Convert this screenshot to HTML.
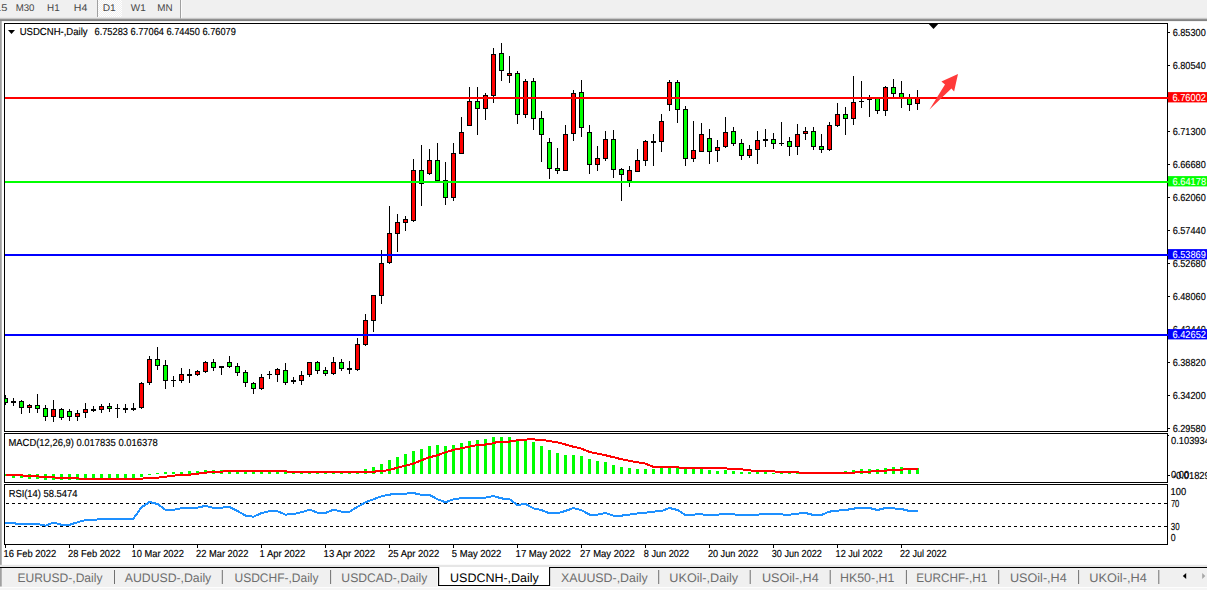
<!DOCTYPE html>
<html><head><meta charset="utf-8"><title>USDCNH Daily</title>
<style>html,body{margin:0;padding:0;background:#fff;overflow:hidden}svg{display:block}text{font-family:"Liberation Sans",sans-serif;text-rendering:geometricPrecision}</style></head><body>
<svg width="1207" height="590" viewBox="0 0 1207 590">
<defs><linearGradient id="tb" x1="0" y1="0" x2="0" y2="1"><stop offset="0" stop-color="#ececec"/><stop offset="0.45" stop-color="#8a8a8a"/><stop offset="0.75" stop-color="#8a8a8a"/><stop offset="1" stop-color="#f4f4f4"/></linearGradient>
<pattern id="hatch" width="2" height="2" patternUnits="userSpaceOnUse"><rect width="2" height="2" fill="#f0f0f0"/><rect width="1" height="1" fill="#fff"/><rect x="1" y="1" width="1" height="1" fill="#fff"/></pattern>
<clipPath id="cm"><rect x="5" y="24" width="1162" height="407"/></clipPath><clipPath id="cr"><rect x="1168" y="0" width="39" height="590"/></clipPath></defs>
<rect width="1207" height="590" fill="#fff"/>
<g id="toolbar"><rect x="0" y="0" width="1207" height="18" fill="#f0f0f0"/>
<rect x="0" y="17" width="1207" height="1" fill="#e9e9e9"/><rect x="0" y="18" width="1207" height="1" fill="#c8c8c8"/><rect x="0" y="19" width="1207" height="1" fill="#909090"/><rect x="0" y="20" width="1207" height="1" fill="#828282"/><rect x="0" y="21" width="1207" height="0.3" fill="#d8d8d8"/>
<rect x="98" y="0" width="24" height="17" fill="url(#hatch)"/>
<rect x="97" y="0" width="1" height="17" fill="#a0a0a0"/><rect x="180" y="0" width="1" height="18.6" fill="#a0a0a0"/><rect x="181" y="0" width="1" height="18" fill="#fbfbfb"/>
<g opacity="0.99"><text x="-5.01" y="10.7" font-size="9.7" fill="#464646" textLength="12.29" lengthAdjust="spacingAndGlyphs" xml:space="preserve">15</text></g>
<g opacity="0.99"><text x="15.63" y="10.7" font-size="9.7" fill="#464646" textLength="18.81" lengthAdjust="spacingAndGlyphs" xml:space="preserve">M30</text></g>
<g opacity="0.99"><text x="47.04" y="10.7" font-size="9.7" fill="#464646" textLength="12.59" lengthAdjust="spacingAndGlyphs" xml:space="preserve">H1</text></g>
<g opacity="0.99"><text x="73.86" y="10.7" font-size="9.7" fill="#464646" textLength="13.52" lengthAdjust="spacingAndGlyphs" xml:space="preserve">H4</text></g>
<g opacity="0.99"><text x="102.68" y="10.7" font-size="9.7" fill="#464646" textLength="13.07" lengthAdjust="spacingAndGlyphs" xml:space="preserve">D1</text></g>
<g opacity="0.99"><text x="130.88" y="10.7" font-size="9.7" fill="#464646" textLength="14.91" lengthAdjust="spacingAndGlyphs" xml:space="preserve">W1</text></g>
<g opacity="0.99"><text x="157.33" y="10.7" font-size="9.7" fill="#464646" textLength="15.31" lengthAdjust="spacingAndGlyphs" xml:space="preserve">MN</text></g>
</g>
<rect x="0" y="21" width="1.75" height="544" fill="#a0a0a0"/>
<g shape-rendering="crispEdges">
<g fill="#000">
<rect x="4" y="23" width="1164" height="1"/><rect x="4" y="23" width="1" height="409"/><rect x="4" y="431" width="1164" height="1"/>
<rect x="1167" y="23" width="1" height="409"/><rect x="1167" y="433" width="1" height="50"/><rect x="1167" y="484" width="1" height="61"/>
<rect x="4" y="433" width="1164" height="1"/><rect x="4" y="433" width="1" height="50"/><rect x="4" y="482" width="1164" height="1"/>
<rect x="4" y="484" width="1164" height="1"/><rect x="4" y="484" width="1" height="61"/><rect x="4" y="544" width="1164" height="1"/>
</g>
<g clip-path="url(#cm)">
<rect x="5" y="395" width="1" height="10" fill="#000"/>
<rect x="3" y="398" width="5" height="5" fill="#000"/>
<rect x="4" y="399" width="3" height="3" fill="#00ff00"/>
<rect x="13" y="398" width="1" height="8" fill="#000"/>
<rect x="11" y="401" width="5" height="2" fill="#000"/>
<rect x="21" y="400" width="1" height="14" fill="#000"/>
<rect x="19" y="401" width="5" height="7" fill="#000"/>
<rect x="20" y="402" width="3" height="5" fill="#00ff00"/>
<rect x="29" y="404" width="1" height="9" fill="#000"/>
<rect x="27" y="405" width="5" height="3" fill="#000"/>
<rect x="28" y="406" width="3" height="1" fill="#ff0000"/>
<rect x="37" y="394" width="1" height="19" fill="#000"/>
<rect x="35" y="405" width="5" height="4" fill="#000"/>
<rect x="36" y="406" width="3" height="2" fill="#00ff00"/>
<rect x="45" y="405" width="1" height="16" fill="#000"/>
<rect x="43" y="408" width="5" height="9" fill="#000"/>
<rect x="44" y="409" width="3" height="7" fill="#00ff00"/>
<rect x="53" y="400" width="1" height="22" fill="#000"/>
<rect x="51" y="409" width="5" height="8" fill="#000"/>
<rect x="52" y="410" width="3" height="6" fill="#ff0000"/>
<rect x="61" y="408" width="1" height="12" fill="#000"/>
<rect x="59" y="409" width="5" height="9" fill="#000"/>
<rect x="60" y="410" width="3" height="7" fill="#00ff00"/>
<rect x="69" y="409" width="1" height="12" fill="#000"/>
<rect x="67" y="411" width="5" height="6" fill="#000"/>
<rect x="68" y="412" width="3" height="4" fill="#00ff00"/>
<rect x="77" y="410" width="1" height="11" fill="#000"/>
<rect x="75" y="413" width="5" height="4" fill="#000"/>
<rect x="76" y="414" width="3" height="2" fill="#ff0000"/>
<rect x="85" y="403" width="1" height="15" fill="#000"/>
<rect x="83" y="409" width="5" height="4" fill="#000"/>
<rect x="84" y="410" width="3" height="2" fill="#ff0000"/>
<rect x="93" y="406" width="1" height="6" fill="#000"/>
<rect x="91" y="409" width="5" height="2" fill="#000"/>
<rect x="101" y="404" width="1" height="9" fill="#000"/>
<rect x="99" y="406" width="5" height="4" fill="#000"/>
<rect x="100" y="407" width="3" height="2" fill="#ff0000"/>
<rect x="109" y="403" width="1" height="9" fill="#000"/>
<rect x="107" y="406" width="5" height="3" fill="#000"/>
<rect x="108" y="407" width="3" height="1" fill="#00ff00"/>
<rect x="117" y="404" width="1" height="14" fill="#000"/>
<rect x="115" y="408" width="5" height="1" fill="#000"/>
<rect x="125" y="404" width="1" height="9" fill="#000"/>
<rect x="123" y="408" width="5" height="2" fill="#000"/>
<rect x="133" y="403" width="1" height="8" fill="#000"/>
<rect x="131" y="408" width="5" height="2" fill="#000"/>
<rect x="141" y="382" width="1" height="27" fill="#000"/>
<rect x="139" y="383" width="5" height="25" fill="#000"/>
<rect x="140" y="384" width="3" height="23" fill="#ff0000"/>
<rect x="149" y="356" width="1" height="29" fill="#000"/>
<rect x="147" y="359" width="5" height="24" fill="#000"/>
<rect x="148" y="360" width="3" height="22" fill="#ff0000"/>
<rect x="157" y="347" width="1" height="23" fill="#000"/>
<rect x="155" y="359" width="5" height="7" fill="#000"/>
<rect x="156" y="360" width="3" height="5" fill="#00ff00"/>
<rect x="165" y="360" width="1" height="29" fill="#000"/>
<rect x="163" y="365" width="5" height="16" fill="#000"/>
<rect x="164" y="366" width="3" height="14" fill="#00ff00"/>
<rect x="173" y="376" width="1" height="11" fill="#000"/>
<rect x="171" y="380" width="5" height="1" fill="#000"/>
<rect x="181" y="368" width="1" height="15" fill="#000"/>
<rect x="179" y="374" width="5" height="7" fill="#000"/>
<rect x="180" y="375" width="3" height="5" fill="#ff0000"/>
<rect x="189" y="369" width="1" height="14" fill="#000"/>
<rect x="187" y="374" width="5" height="2" fill="#000"/>
<rect x="197" y="370" width="1" height="6" fill="#000"/>
<rect x="195" y="371" width="5" height="4" fill="#000"/>
<rect x="196" y="372" width="3" height="2" fill="#ff0000"/>
<rect x="205" y="361" width="1" height="12" fill="#000"/>
<rect x="203" y="362" width="5" height="10" fill="#000"/>
<rect x="204" y="363" width="3" height="8" fill="#ff0000"/>
<rect x="213" y="359" width="1" height="12" fill="#000"/>
<rect x="211" y="362" width="5" height="6" fill="#000"/>
<rect x="212" y="363" width="3" height="4" fill="#00ff00"/>
<rect x="221" y="366" width="1" height="9" fill="#000"/>
<rect x="219" y="366" width="5" height="2" fill="#000"/>
<rect x="229" y="356" width="1" height="12" fill="#000"/>
<rect x="227" y="362" width="5" height="5" fill="#000"/>
<rect x="228" y="363" width="3" height="3" fill="#00ff00"/>
<rect x="237" y="363" width="1" height="13" fill="#000"/>
<rect x="235" y="366" width="5" height="7" fill="#000"/>
<rect x="236" y="367" width="3" height="5" fill="#00ff00"/>
<rect x="245" y="370" width="1" height="17" fill="#000"/>
<rect x="243" y="372" width="5" height="11" fill="#000"/>
<rect x="244" y="373" width="3" height="9" fill="#00ff00"/>
<rect x="253" y="382" width="1" height="12" fill="#000"/>
<rect x="251" y="383" width="5" height="6" fill="#000"/>
<rect x="252" y="384" width="3" height="4" fill="#00ff00"/>
<rect x="261" y="374" width="1" height="16" fill="#000"/>
<rect x="259" y="377" width="5" height="12" fill="#000"/>
<rect x="260" y="378" width="3" height="10" fill="#ff0000"/>
<rect x="269" y="371" width="1" height="8" fill="#000"/>
<rect x="267" y="374" width="5" height="1" fill="#000"/>
<rect x="277" y="368" width="1" height="14" fill="#000"/>
<rect x="275" y="369" width="5" height="6" fill="#000"/>
<rect x="276" y="370" width="3" height="4" fill="#ff0000"/>
<rect x="285" y="363" width="1" height="22" fill="#000"/>
<rect x="283" y="370" width="5" height="13" fill="#000"/>
<rect x="284" y="371" width="3" height="11" fill="#00ff00"/>
<rect x="293" y="377" width="1" height="7" fill="#000"/>
<rect x="291" y="380" width="5" height="2" fill="#000"/>
<rect x="301" y="371" width="1" height="14" fill="#000"/>
<rect x="299" y="375" width="5" height="6" fill="#000"/>
<rect x="300" y="376" width="3" height="4" fill="#ff0000"/>
<rect x="309" y="362" width="1" height="15" fill="#000"/>
<rect x="307" y="362" width="5" height="13" fill="#000"/>
<rect x="308" y="363" width="3" height="11" fill="#ff0000"/>
<rect x="317" y="361" width="1" height="13" fill="#000"/>
<rect x="315" y="362" width="5" height="9" fill="#000"/>
<rect x="316" y="363" width="3" height="7" fill="#00ff00"/>
<rect x="325" y="367" width="1" height="9" fill="#000"/>
<rect x="323" y="370" width="5" height="4" fill="#000"/>
<rect x="324" y="371" width="3" height="2" fill="#00ff00"/>
<rect x="333" y="357" width="1" height="18" fill="#000"/>
<rect x="331" y="362" width="5" height="12" fill="#000"/>
<rect x="332" y="363" width="3" height="10" fill="#ff0000"/>
<rect x="341" y="359" width="1" height="12" fill="#000"/>
<rect x="339" y="362" width="5" height="7" fill="#000"/>
<rect x="340" y="363" width="3" height="5" fill="#00ff00"/>
<rect x="349" y="361" width="1" height="13" fill="#000"/>
<rect x="347" y="368" width="5" height="2" fill="#000"/>
<rect x="357" y="338" width="1" height="33" fill="#000"/>
<rect x="355" y="344" width="5" height="26" fill="#000"/>
<rect x="356" y="345" width="3" height="24" fill="#ff0000"/>
<rect x="365" y="314" width="1" height="32" fill="#000"/>
<rect x="363" y="320" width="5" height="25" fill="#000"/>
<rect x="364" y="321" width="3" height="23" fill="#ff0000"/>
<rect x="373" y="295" width="1" height="37" fill="#000"/>
<rect x="371" y="295" width="5" height="26" fill="#000"/>
<rect x="372" y="296" width="3" height="24" fill="#ff0000"/>
<rect x="381" y="250" width="1" height="54" fill="#000"/>
<rect x="379" y="263" width="5" height="33" fill="#000"/>
<rect x="380" y="264" width="3" height="31" fill="#ff0000"/>
<rect x="389" y="206" width="1" height="58" fill="#000"/>
<rect x="387" y="233" width="5" height="30" fill="#000"/>
<rect x="388" y="234" width="3" height="28" fill="#ff0000"/>
<rect x="397" y="214" width="1" height="38" fill="#000"/>
<rect x="395" y="222" width="5" height="12" fill="#000"/>
<rect x="396" y="223" width="3" height="10" fill="#ff0000"/>
<rect x="405" y="216" width="1" height="15" fill="#000"/>
<rect x="403" y="219" width="5" height="4" fill="#000"/>
<rect x="404" y="220" width="3" height="2" fill="#ff0000"/>
<rect x="413" y="159" width="1" height="63" fill="#000"/>
<rect x="411" y="170" width="5" height="51" fill="#000"/>
<rect x="412" y="171" width="3" height="49" fill="#ff0000"/>
<rect x="421" y="145" width="1" height="61" fill="#000"/>
<rect x="419" y="170" width="5" height="14" fill="#000"/>
<rect x="420" y="171" width="3" height="12" fill="#00ff00"/>
<rect x="429" y="149" width="1" height="26" fill="#000"/>
<rect x="427" y="160" width="5" height="14" fill="#000"/>
<rect x="428" y="161" width="3" height="12" fill="#ff0000"/>
<rect x="437" y="143" width="1" height="38" fill="#000"/>
<rect x="435" y="160" width="5" height="21" fill="#000"/>
<rect x="436" y="161" width="3" height="19" fill="#00ff00"/>
<rect x="445" y="162" width="1" height="43" fill="#000"/>
<rect x="443" y="180" width="5" height="18" fill="#000"/>
<rect x="444" y="181" width="3" height="16" fill="#00ff00"/>
<rect x="453" y="143" width="1" height="58" fill="#000"/>
<rect x="451" y="153" width="5" height="45" fill="#000"/>
<rect x="452" y="154" width="3" height="43" fill="#ff0000"/>
<rect x="461" y="117" width="1" height="37" fill="#000"/>
<rect x="459" y="132" width="5" height="22" fill="#000"/>
<rect x="460" y="133" width="3" height="20" fill="#ff0000"/>
<rect x="469" y="87" width="1" height="39" fill="#000"/>
<rect x="467" y="101" width="5" height="25" fill="#000"/>
<rect x="468" y="102" width="3" height="23" fill="#ff0000"/>
<rect x="477" y="87" width="1" height="48" fill="#000"/>
<rect x="475" y="101" width="5" height="8" fill="#000"/>
<rect x="476" y="102" width="3" height="6" fill="#00ff00"/>
<rect x="485" y="93" width="1" height="27" fill="#000"/>
<rect x="483" y="95" width="5" height="14" fill="#000"/>
<rect x="484" y="96" width="3" height="12" fill="#ff0000"/>
<rect x="493" y="48" width="1" height="55" fill="#000"/>
<rect x="491" y="54" width="5" height="42" fill="#000"/>
<rect x="492" y="55" width="3" height="40" fill="#ff0000"/>
<rect x="501" y="43" width="1" height="38" fill="#000"/>
<rect x="499" y="53" width="5" height="18" fill="#000"/>
<rect x="500" y="54" width="3" height="16" fill="#00ff00"/>
<rect x="509" y="56" width="1" height="27" fill="#000"/>
<rect x="507" y="73" width="5" height="3" fill="#000"/>
<rect x="508" y="74" width="3" height="1" fill="#ff0000"/>
<rect x="517" y="71" width="1" height="53" fill="#000"/>
<rect x="515" y="73" width="5" height="42" fill="#000"/>
<rect x="516" y="74" width="3" height="40" fill="#00ff00"/>
<rect x="525" y="79" width="1" height="39" fill="#000"/>
<rect x="523" y="81" width="5" height="34" fill="#000"/>
<rect x="524" y="82" width="3" height="32" fill="#ff0000"/>
<rect x="533" y="78" width="1" height="52" fill="#000"/>
<rect x="531" y="81" width="5" height="38" fill="#000"/>
<rect x="532" y="82" width="3" height="36" fill="#00ff00"/>
<rect x="541" y="111" width="1" height="51" fill="#000"/>
<rect x="539" y="118" width="5" height="17" fill="#000"/>
<rect x="540" y="119" width="3" height="15" fill="#00ff00"/>
<rect x="549" y="138" width="1" height="41" fill="#000"/>
<rect x="547" y="142" width="5" height="27" fill="#000"/>
<rect x="548" y="143" width="3" height="25" fill="#00ff00"/>
<rect x="557" y="148" width="1" height="26" fill="#000"/>
<rect x="555" y="168" width="5" height="3" fill="#000"/>
<rect x="556" y="169" width="3" height="1" fill="#00ff00"/>
<rect x="565" y="125" width="1" height="46" fill="#000"/>
<rect x="563" y="134" width="5" height="37" fill="#000"/>
<rect x="564" y="135" width="3" height="35" fill="#ff0000"/>
<rect x="573" y="90" width="1" height="51" fill="#000"/>
<rect x="571" y="93" width="5" height="41" fill="#000"/>
<rect x="572" y="94" width="3" height="39" fill="#ff0000"/>
<rect x="581" y="80" width="1" height="57" fill="#000"/>
<rect x="579" y="92" width="5" height="36" fill="#000"/>
<rect x="580" y="93" width="3" height="34" fill="#00ff00"/>
<rect x="589" y="125" width="1" height="49" fill="#000"/>
<rect x="587" y="132" width="5" height="33" fill="#000"/>
<rect x="588" y="133" width="3" height="31" fill="#00ff00"/>
<rect x="597" y="146" width="1" height="25" fill="#000"/>
<rect x="595" y="158" width="5" height="7" fill="#000"/>
<rect x="596" y="159" width="3" height="5" fill="#ff0000"/>
<rect x="605" y="131" width="1" height="30" fill="#000"/>
<rect x="603" y="139" width="5" height="20" fill="#000"/>
<rect x="604" y="140" width="3" height="18" fill="#ff0000"/>
<rect x="613" y="130" width="1" height="48" fill="#000"/>
<rect x="611" y="139" width="5" height="31" fill="#000"/>
<rect x="612" y="140" width="3" height="29" fill="#00ff00"/>
<rect x="621" y="168" width="1" height="33" fill="#000"/>
<rect x="619" y="169" width="5" height="6" fill="#000"/>
<rect x="620" y="170" width="3" height="4" fill="#00ff00"/>
<rect x="629" y="166" width="1" height="21" fill="#000"/>
<rect x="627" y="170" width="5" height="11" fill="#000"/>
<rect x="628" y="171" width="3" height="9" fill="#ff0000"/>
<rect x="637" y="149" width="1" height="23" fill="#000"/>
<rect x="635" y="160" width="5" height="12" fill="#000"/>
<rect x="636" y="161" width="3" height="10" fill="#ff0000"/>
<rect x="645" y="140" width="1" height="26" fill="#000"/>
<rect x="643" y="141" width="5" height="20" fill="#000"/>
<rect x="644" y="142" width="3" height="18" fill="#ff0000"/>
<rect x="653" y="134" width="1" height="32" fill="#000"/>
<rect x="651" y="141" width="5" height="2" fill="#000"/>
<rect x="661" y="114" width="1" height="38" fill="#000"/>
<rect x="659" y="121" width="5" height="21" fill="#000"/>
<rect x="660" y="122" width="3" height="19" fill="#ff0000"/>
<rect x="669" y="80" width="1" height="31" fill="#000"/>
<rect x="667" y="82" width="5" height="23" fill="#000"/>
<rect x="668" y="83" width="3" height="21" fill="#ff0000"/>
<rect x="677" y="80" width="1" height="43" fill="#000"/>
<rect x="675" y="82" width="5" height="28" fill="#000"/>
<rect x="676" y="83" width="3" height="26" fill="#00ff00"/>
<rect x="685" y="106" width="1" height="60" fill="#000"/>
<rect x="683" y="109" width="5" height="50" fill="#000"/>
<rect x="684" y="110" width="3" height="48" fill="#00ff00"/>
<rect x="693" y="121" width="1" height="41" fill="#000"/>
<rect x="691" y="150" width="5" height="9" fill="#000"/>
<rect x="692" y="151" width="3" height="7" fill="#ff0000"/>
<rect x="701" y="123" width="1" height="29" fill="#000"/>
<rect x="699" y="134" width="5" height="18" fill="#000"/>
<rect x="700" y="135" width="3" height="16" fill="#ff0000"/>
<rect x="709" y="129" width="1" height="35" fill="#000"/>
<rect x="707" y="138" width="5" height="14" fill="#000"/>
<rect x="708" y="139" width="3" height="12" fill="#00ff00"/>
<rect x="717" y="140" width="1" height="22" fill="#000"/>
<rect x="715" y="147" width="5" height="4" fill="#000"/>
<rect x="716" y="148" width="3" height="2" fill="#ff0000"/>
<rect x="725" y="117" width="1" height="31" fill="#000"/>
<rect x="723" y="132" width="5" height="15" fill="#000"/>
<rect x="724" y="133" width="3" height="13" fill="#ff0000"/>
<rect x="733" y="127" width="1" height="19" fill="#000"/>
<rect x="731" y="131" width="5" height="13" fill="#000"/>
<rect x="732" y="132" width="3" height="11" fill="#00ff00"/>
<rect x="741" y="139" width="1" height="21" fill="#000"/>
<rect x="739" y="143" width="5" height="13" fill="#000"/>
<rect x="740" y="144" width="3" height="11" fill="#00ff00"/>
<rect x="749" y="145" width="1" height="13" fill="#000"/>
<rect x="747" y="149" width="5" height="7" fill="#000"/>
<rect x="748" y="150" width="3" height="5" fill="#ff0000"/>
<rect x="757" y="131" width="1" height="33" fill="#000"/>
<rect x="755" y="140" width="5" height="10" fill="#000"/>
<rect x="756" y="141" width="3" height="8" fill="#ff0000"/>
<rect x="765" y="129" width="1" height="18" fill="#000"/>
<rect x="763" y="139" width="5" height="2" fill="#000"/>
<rect x="773" y="133" width="1" height="16" fill="#000"/>
<rect x="771" y="139" width="5" height="5" fill="#000"/>
<rect x="772" y="140" width="3" height="3" fill="#00ff00"/>
<rect x="781" y="122" width="1" height="24" fill="#000"/>
<rect x="779" y="143" width="5" height="1" fill="#000"/>
<rect x="789" y="137" width="1" height="19" fill="#000"/>
<rect x="787" y="141" width="5" height="6" fill="#000"/>
<rect x="788" y="142" width="3" height="4" fill="#00ff00"/>
<rect x="797" y="124" width="1" height="31" fill="#000"/>
<rect x="795" y="134" width="5" height="13" fill="#000"/>
<rect x="796" y="135" width="3" height="11" fill="#ff0000"/>
<rect x="805" y="127" width="1" height="13" fill="#000"/>
<rect x="803" y="131" width="5" height="3" fill="#000"/>
<rect x="804" y="132" width="3" height="1" fill="#ff0000"/>
<rect x="813" y="127" width="1" height="23" fill="#000"/>
<rect x="811" y="131" width="5" height="16" fill="#000"/>
<rect x="812" y="132" width="3" height="14" fill="#00ff00"/>
<rect x="821" y="134" width="1" height="19" fill="#000"/>
<rect x="819" y="146" width="5" height="4" fill="#000"/>
<rect x="820" y="147" width="3" height="2" fill="#00ff00"/>
<rect x="829" y="122" width="1" height="29" fill="#000"/>
<rect x="827" y="125" width="5" height="25" fill="#000"/>
<rect x="828" y="126" width="3" height="23" fill="#ff0000"/>
<rect x="837" y="103" width="1" height="24" fill="#000"/>
<rect x="835" y="114" width="5" height="12" fill="#000"/>
<rect x="836" y="115" width="3" height="10" fill="#ff0000"/>
<rect x="845" y="107" width="1" height="28" fill="#000"/>
<rect x="843" y="114" width="5" height="5" fill="#000"/>
<rect x="844" y="115" width="3" height="3" fill="#00ff00"/>
<rect x="853" y="76" width="1" height="49" fill="#000"/>
<rect x="851" y="102" width="5" height="17" fill="#000"/>
<rect x="852" y="103" width="3" height="15" fill="#ff0000"/>
<rect x="861" y="81" width="1" height="27" fill="#000"/>
<rect x="859" y="101" width="5" height="1" fill="#000"/>
<rect x="869" y="95" width="1" height="22" fill="#000"/>
<rect x="867" y="99" width="5" height="1" fill="#000"/>
<rect x="877" y="97" width="1" height="17" fill="#000"/>
<rect x="875" y="98" width="5" height="13" fill="#000"/>
<rect x="876" y="99" width="3" height="11" fill="#00ff00"/>
<rect x="885" y="86" width="1" height="30" fill="#000"/>
<rect x="883" y="87" width="5" height="24" fill="#000"/>
<rect x="884" y="88" width="3" height="22" fill="#ff0000"/>
<rect x="893" y="79" width="1" height="18" fill="#000"/>
<rect x="891" y="87" width="5" height="7" fill="#000"/>
<rect x="892" y="88" width="3" height="5" fill="#00ff00"/>
<rect x="901" y="81" width="1" height="27" fill="#000"/>
<rect x="899" y="93" width="5" height="5" fill="#000"/>
<rect x="900" y="94" width="3" height="3" fill="#00ff00"/>
<rect x="909" y="94" width="1" height="17" fill="#000"/>
<rect x="907" y="98" width="5" height="7" fill="#000"/>
<rect x="908" y="99" width="3" height="5" fill="#00ff00"/>
<rect x="917" y="90" width="1" height="20" fill="#000"/>
<rect x="915" y="98" width="5" height="6" fill="#000"/>
<rect x="916" y="99" width="3" height="4" fill="#ff0000"/>
</g>
<rect x="5" y="97" width="1163" height="2" fill="#ff0000"/>
<rect x="5" y="181" width="1163" height="2" fill="#00ff00"/>
<rect x="5" y="254" width="1163" height="2" fill="#0000ff"/>
<rect x="5" y="334" width="1163" height="2" fill="#0000ff"/>
</g>
<path d="M928.8,24 L938.2,24 L933.5,29 Z" fill="#000"/>
<path d="M929.5,109.6 L945,84.6 L941.4,81.6 L958,74 L954.1,91.6 L951.4,88.6 Z" fill="#ff3a3a"/>
<g shape-rendering="crispEdges">
<rect x="1168" y="32" width="2" height="1" fill="#000"/>
<rect x="1168" y="65" width="2" height="1" fill="#000"/>
<rect x="1168" y="131" width="2" height="1" fill="#000"/>
<rect x="1168" y="164" width="2" height="1" fill="#000"/>
<rect x="1168" y="197" width="2" height="1" fill="#000"/>
<rect x="1168" y="230" width="2" height="1" fill="#000"/>
<rect x="1168" y="263" width="2" height="1" fill="#000"/>
<rect x="1168" y="296" width="2" height="1" fill="#000"/>
<rect x="1168" y="329" width="2" height="1" fill="#000"/>
<rect x="1168" y="362" width="2" height="1" fill="#000"/>
<rect x="1168" y="395" width="2" height="1" fill="#000"/>
<rect x="1168" y="428" width="2" height="1" fill="#000"/>
<rect x="1168" y="475" width="2" height="1" fill="#000"/><rect x="1168" y="435" width="1" height="1" fill="#000"/>
</g>
<text x="1172.67" y="36" font-size="10.17" fill="#000" textLength="33.06" lengthAdjust="spacingAndGlyphs" xml:space="preserve" stroke="#000" stroke-width="0.16">6.85300</text>
<text x="1172.67" y="69" font-size="10.17" fill="#000" textLength="33.06" lengthAdjust="spacingAndGlyphs" xml:space="preserve" stroke="#000" stroke-width="0.16">6.80540</text>
<text x="1172.67" y="135" font-size="10.17" fill="#000" textLength="33.06" lengthAdjust="spacingAndGlyphs" xml:space="preserve" stroke="#000" stroke-width="0.16">6.71300</text>
<text x="1172.67" y="168" font-size="10.17" fill="#000" textLength="33.06" lengthAdjust="spacingAndGlyphs" xml:space="preserve" stroke="#000" stroke-width="0.16">6.66680</text>
<text x="1172.67" y="201" font-size="10.17" fill="#000" textLength="33.06" lengthAdjust="spacingAndGlyphs" xml:space="preserve" stroke="#000" stroke-width="0.16">6.62060</text>
<text x="1172.67" y="234" font-size="10.17" fill="#000" textLength="33.06" lengthAdjust="spacingAndGlyphs" xml:space="preserve" stroke="#000" stroke-width="0.16">6.57440</text>
<text x="1172.67" y="267" font-size="10.17" fill="#000" textLength="33.06" lengthAdjust="spacingAndGlyphs" xml:space="preserve" stroke="#000" stroke-width="0.16">6.52680</text>
<text x="1172.67" y="300" font-size="10.17" fill="#000" textLength="33.06" lengthAdjust="spacingAndGlyphs" xml:space="preserve" stroke="#000" stroke-width="0.16">6.48060</text>
<text x="1172.67" y="333" font-size="10.17" fill="#000" textLength="33.06" lengthAdjust="spacingAndGlyphs" xml:space="preserve" stroke="#000" stroke-width="0.16">6.43440</text>
<text x="1172.67" y="366" font-size="10.17" fill="#000" textLength="33.06" lengthAdjust="spacingAndGlyphs" xml:space="preserve" stroke="#000" stroke-width="0.16">6.38820</text>
<text x="1172.67" y="399" font-size="10.17" fill="#000" textLength="33.06" lengthAdjust="spacingAndGlyphs" xml:space="preserve" stroke="#000" stroke-width="0.16">6.34200</text>
<text x="1172.67" y="432" font-size="10.17" fill="#000" textLength="33.06" lengthAdjust="spacingAndGlyphs" xml:space="preserve" stroke="#000" stroke-width="0.16">6.29580</text>
<g shape-rendering="crispEdges">
<rect x="1168" y="92.1" width="39" height="10.3" fill="#ff0000" shape-rendering="auto"/>
<rect x="1168" y="176.1" width="39" height="10.3" fill="#00ff00" shape-rendering="auto"/>
<rect x="1168" y="249.1" width="39" height="10.3" fill="#0000ff" shape-rendering="auto"/>
<rect x="1168" y="329.1" width="39" height="10.3" fill="#0000ff" shape-rendering="auto"/>
</g>
<text x="1172.47" y="101.0" font-size="10.17" fill="#fff" textLength="33.49" lengthAdjust="spacingAndGlyphs" xml:space="preserve" stroke="#fff" stroke-width="0.08">6.76002</text>
<text x="1172.59" y="185.0" font-size="10.17" fill="#fff" textLength="33.52" lengthAdjust="spacingAndGlyphs" xml:space="preserve" stroke="#fff" stroke-width="0.08">6.64178</text>
<text x="1172.56" y="258.0" font-size="10.17" fill="#fff" textLength="33.31" lengthAdjust="spacingAndGlyphs" xml:space="preserve" stroke="#fff" stroke-width="0.08">6.53869</text>
<text x="1172.47" y="338.0" font-size="10.17" fill="#fff" textLength="33.49" lengthAdjust="spacingAndGlyphs" xml:space="preserve" stroke="#fff" stroke-width="0.08">6.42652</text>
<path d="M8,30 L15,30 L11.5,34 Z" fill="#000"/>
<text x="19.74" y="35" font-size="10.17" fill="#000" textLength="67.84" lengthAdjust="spacingAndGlyphs" xml:space="preserve" stroke="#000" stroke-width="0.16">USDCNH-,Daily</text>
<text x="94.50" y="35" font-size="10.17" fill="#000" textLength="141.40" lengthAdjust="spacingAndGlyphs" xml:space="preserve" stroke="#000" stroke-width="0.16">6.75283 6.77064 6.74450 6.76079</text>
<text x="8.50" y="446" font-size="10.17" fill="#000" textLength="149.16" lengthAdjust="spacingAndGlyphs" xml:space="preserve" stroke="#000" stroke-width="0.16">MACD(12,26,9) 0.017835 0.016378</text>
<text x="8.63" y="497" font-size="10.17" fill="#000" textLength="68.78" lengthAdjust="spacingAndGlyphs" xml:space="preserve" stroke="#000" stroke-width="0.16">RSI(14) 58.5474</text>
<g shape-rendering="crispEdges">
<rect x="5" y="474" width="2" height="2" fill="#00ff00"/>
<rect x="12" y="474" width="3" height="4" fill="#00ff00"/>
<rect x="20" y="474" width="3" height="4" fill="#00ff00"/>
<rect x="28" y="474" width="3" height="5" fill="#00ff00"/>
<rect x="36" y="474" width="3" height="5" fill="#00ff00"/>
<rect x="44" y="474" width="3" height="6" fill="#00ff00"/>
<rect x="52" y="474" width="3" height="6" fill="#00ff00"/>
<rect x="60" y="474" width="3" height="6" fill="#00ff00"/>
<rect x="68" y="474" width="3" height="6" fill="#00ff00"/>
<rect x="76" y="474" width="3" height="6" fill="#00ff00"/>
<rect x="84" y="474" width="3" height="6" fill="#00ff00"/>
<rect x="92" y="474" width="3" height="6" fill="#00ff00"/>
<rect x="100" y="474" width="3" height="6" fill="#00ff00"/>
<rect x="108" y="474" width="3" height="5" fill="#00ff00"/>
<rect x="116" y="474" width="3" height="5" fill="#00ff00"/>
<rect x="124" y="474" width="3" height="5" fill="#00ff00"/>
<rect x="132" y="474" width="3" height="5" fill="#00ff00"/>
<rect x="140" y="474" width="3" height="3" fill="#00ff00"/>
<rect x="148" y="474" width="3" height="1" fill="#00ff00"/>
<rect x="156" y="473" width="3" height="1" fill="#00ff00"/>
<rect x="164" y="472" width="3" height="2" fill="#00ff00"/>
<rect x="172" y="472" width="3" height="2" fill="#00ff00"/>
<rect x="180" y="472" width="3" height="2" fill="#00ff00"/>
<rect x="188" y="471" width="3" height="3" fill="#00ff00"/>
<rect x="196" y="471" width="3" height="3" fill="#00ff00"/>
<rect x="204" y="470" width="3" height="4" fill="#00ff00"/>
<rect x="212" y="470" width="3" height="4" fill="#00ff00"/>
<rect x="220" y="470" width="3" height="4" fill="#00ff00"/>
<rect x="228" y="472" width="3" height="2" fill="#00ff00"/>
<rect x="236" y="472" width="3" height="2" fill="#00ff00"/>
<rect x="244" y="472" width="3" height="2" fill="#00ff00"/>
<rect x="252" y="472" width="3" height="2" fill="#00ff00"/>
<rect x="260" y="472" width="3" height="2" fill="#00ff00"/>
<rect x="268" y="472" width="3" height="2" fill="#00ff00"/>
<rect x="276" y="472" width="3" height="2" fill="#00ff00"/>
<rect x="284" y="472" width="3" height="2" fill="#00ff00"/>
<rect x="292" y="472" width="3" height="2" fill="#00ff00"/>
<rect x="300" y="472" width="3" height="2" fill="#00ff00"/>
<rect x="308" y="472" width="3" height="2" fill="#00ff00"/>
<rect x="316" y="472" width="3" height="2" fill="#00ff00"/>
<rect x="324" y="472" width="3" height="2" fill="#00ff00"/>
<rect x="332" y="472" width="3" height="2" fill="#00ff00"/>
<rect x="340" y="472" width="3" height="2" fill="#00ff00"/>
<rect x="348" y="473" width="3" height="1" fill="#00ff00"/>
<rect x="356" y="472" width="3" height="2" fill="#00ff00"/>
<rect x="364" y="469" width="3" height="5" fill="#00ff00"/>
<rect x="372" y="467" width="3" height="7" fill="#00ff00"/>
<rect x="380" y="464" width="3" height="10" fill="#00ff00"/>
<rect x="388" y="460" width="3" height="14" fill="#00ff00"/>
<rect x="396" y="457" width="3" height="17" fill="#00ff00"/>
<rect x="404" y="454" width="3" height="20" fill="#00ff00"/>
<rect x="412" y="451" width="3" height="23" fill="#00ff00"/>
<rect x="420" y="449" width="3" height="25" fill="#00ff00"/>
<rect x="428" y="446" width="3" height="28" fill="#00ff00"/>
<rect x="436" y="445" width="3" height="29" fill="#00ff00"/>
<rect x="444" y="446" width="3" height="28" fill="#00ff00"/>
<rect x="452" y="445" width="3" height="29" fill="#00ff00"/>
<rect x="460" y="443" width="3" height="31" fill="#00ff00"/>
<rect x="468" y="441" width="3" height="33" fill="#00ff00"/>
<rect x="476" y="440" width="3" height="34" fill="#00ff00"/>
<rect x="484" y="439" width="3" height="35" fill="#00ff00"/>
<rect x="492" y="437" width="3" height="37" fill="#00ff00"/>
<rect x="500" y="437" width="3" height="37" fill="#00ff00"/>
<rect x="508" y="437" width="3" height="37" fill="#00ff00"/>
<rect x="516" y="439" width="3" height="35" fill="#00ff00"/>
<rect x="524" y="440" width="3" height="34" fill="#00ff00"/>
<rect x="532" y="442" width="3" height="32" fill="#00ff00"/>
<rect x="540" y="446" width="3" height="28" fill="#00ff00"/>
<rect x="548" y="450" width="3" height="24" fill="#00ff00"/>
<rect x="556" y="453" width="3" height="21" fill="#00ff00"/>
<rect x="564" y="455" width="3" height="19" fill="#00ff00"/>
<rect x="572" y="455" width="3" height="19" fill="#00ff00"/>
<rect x="580" y="456" width="3" height="18" fill="#00ff00"/>
<rect x="588" y="459" width="3" height="15" fill="#00ff00"/>
<rect x="596" y="461" width="3" height="13" fill="#00ff00"/>
<rect x="604" y="462" width="3" height="12" fill="#00ff00"/>
<rect x="612" y="465" width="3" height="9" fill="#00ff00"/>
<rect x="620" y="467" width="3" height="7" fill="#00ff00"/>
<rect x="628" y="468" width="3" height="6" fill="#00ff00"/>
<rect x="636" y="469" width="3" height="5" fill="#00ff00"/>
<rect x="644" y="469" width="3" height="5" fill="#00ff00"/>
<rect x="652" y="469" width="3" height="5" fill="#00ff00"/>
<rect x="660" y="468" width="3" height="6" fill="#00ff00"/>
<rect x="668" y="468" width="3" height="6" fill="#00ff00"/>
<rect x="676" y="466" width="3" height="8" fill="#00ff00"/>
<rect x="684" y="469" width="3" height="5" fill="#00ff00"/>
<rect x="692" y="469" width="3" height="5" fill="#00ff00"/>
<rect x="700" y="469" width="3" height="5" fill="#00ff00"/>
<rect x="708" y="470" width="3" height="4" fill="#00ff00"/>
<rect x="716" y="471" width="3" height="3" fill="#00ff00"/>
<rect x="724" y="470" width="3" height="4" fill="#00ff00"/>
<rect x="732" y="471" width="3" height="3" fill="#00ff00"/>
<rect x="740" y="472" width="3" height="2" fill="#00ff00"/>
<rect x="748" y="472" width="3" height="2" fill="#00ff00"/>
<rect x="756" y="472" width="3" height="2" fill="#00ff00"/>
<rect x="764" y="472" width="3" height="2" fill="#00ff00"/>
<rect x="772" y="473" width="3" height="1" fill="#00ff00"/>
<rect x="780" y="473" width="3" height="1" fill="#00ff00"/>
<rect x="788" y="473" width="3" height="1" fill="#00ff00"/>
<rect x="796" y="473" width="3" height="1" fill="#00ff00"/>
<rect x="804" y="473" width="3" height="1" fill="#00ff00"/>
<rect x="812" y="473" width="3" height="1" fill="#00ff00"/>
<rect x="820" y="473" width="3" height="1" fill="#00ff00"/>
<rect x="828" y="473" width="3" height="1" fill="#00ff00"/>
<rect x="836" y="473" width="3" height="1" fill="#00ff00"/>
<rect x="844" y="471" width="3" height="3" fill="#00ff00"/>
<rect x="852" y="470" width="3" height="4" fill="#00ff00"/>
<rect x="860" y="469" width="3" height="5" fill="#00ff00"/>
<rect x="868" y="469" width="3" height="5" fill="#00ff00"/>
<rect x="876" y="469" width="3" height="5" fill="#00ff00"/>
<rect x="884" y="468" width="3" height="6" fill="#00ff00"/>
<rect x="892" y="467" width="3" height="7" fill="#00ff00"/>
<rect x="900" y="467" width="3" height="7" fill="#00ff00"/>
<rect x="908" y="469" width="3" height="5" fill="#00ff00"/>
<rect x="916" y="468" width="3" height="6" fill="#00ff00"/>
</g>
<polyline points="5.5,475 13.5,475 21.5,475 22.5,475 23.5,476 29.5,476 37.5,476 38.5,476 39.5,477 45.5,477 53.5,477 54.5,477 55.5,478 61.5,478 69.5,478 77.5,478 78.5,478 79.5,479 85.5,479 93.5,479 101.5,479 109.5,479 117.5,479 125.5,479 133.5,479 141.5,479 142.5,479 143.5,478 149.5,478 157.5,478 158.5,478 159.5,477 165.5,477 166.5,477 167.5,476 173.5,476 174.5,476 175.5,475 181.5,475 189.5,475 190.5,475 191.5,474 197.5,474 198.5,474 199.5,473 205.5,473 206.5,473 207.5,472 213.5,472 221.5,472 222.5,472 223.5,471 229.5,471 237.5,471 245.5,471 253.5,471 261.5,471 269.5,471 277.5,471 285.5,471 286.5,471 287.5,472 293.5,472 301.5,472 309.5,472 317.5,472 325.5,472 333.5,472 341.5,472 349.5,472 357.5,472 365.5,472 373.5,472 374.5,472 375.5,471.4 381.5,471.4 389.5,469.9 397.5,467.7 405.5,465.7 413.5,463.6 421.5,460.2 429.5,457.2 437.5,455.3 445.5,452.3 453.5,449.9 461.5,448.1 469.5,446.6 477.5,445 478.5,445 479.5,444.5 485.5,444.5 493.5,443.3 494.5,443.3 495.5,442.3 501.5,442.3 502.5,442.3 503.5,441.5 509.5,441.5 517.5,440.3 518.5,440.3 519.5,439.8 525.5,439.8 526.5,439.8 527.5,439.1 533.5,439.1 534.5,439.1 535.5,439.8 541.5,439.8 549.5,441.1 557.5,442.3 565.5,444.5 573.5,446.8 581.5,448.6 589.5,451.9 597.5,453.6 605.5,455.3 613.5,457.2 621.5,459.3 629.5,460.8 637.5,462.3 645.5,463.6 653.5,467 661.5,467 669.5,467 677.5,467 678.5,467 679.5,468 685.5,468 693.5,468 701.5,468 709.5,468 717.5,468 725.5,468 726.5,468 727.5,469 733.5,469 741.5,469 742.5,469 743.5,470 749.5,470 750.5,470 751.5,471 757.5,471 765.5,471 773.5,471 774.5,471 775.5,472 781.5,472 789.5,472 797.5,472 798.5,472 799.5,473 805.5,473 813.5,473 821.5,473 829.5,473 837.5,473 845.5,473 853.5,473 854.5,473 855.5,472 861.5,472 869.5,472 870.5,472 871.5,471 877.5,471 885.5,471 886.5,471 887.5,470 893.5,470 901.5,470 902.5,470 903.5,469 909.5,469 917.5,469 918,469" fill="none" stroke="#ff0000" stroke-width="2" shape-rendering="crispEdges"/>
<g shape-rendering="crispEdges"><path d="M6,503.5 H1167 M6,526.5 H1167" stroke="#000" stroke-width="1" stroke-dasharray="3,3" fill="none"/></g>
<polyline points="5,522.8 5.5,522.8 13.5,522.8 14.5,522.8 15.5,523.6 21.5,523.6 29.5,523.6 30.5,523.6 31.5,524 37.5,524 45.5,525.6 53.5,522.6 61.5,524.8 69.5,524.8 77.5,522.3 85.5,520.1 93.5,520.1 101.5,518.6 109.5,518.6 117.5,518.6 125.5,518.6 133.5,518.6 141.5,507.3 149.5,502 157.5,504 165.5,509.8 173.5,509.8 181.5,508.2 182.5,508.2 183.5,507.8 189.5,507.8 190.5,507.8 191.5,507.6 197.5,507.6 205.5,505.9 213.5,507.9 221.5,507.9 222.5,507.9 223.5,507.1 229.5,507.1 237.5,510.9 245.5,515.6 253.5,516.7 261.5,513.1 269.5,511.2 277.5,511.2 285.5,514.6 286.5,514.6 287.5,514.2 293.5,514.2 301.5,512.2 309.5,509.7 317.5,512.6 318.5,512.6 319.5,512.9 325.5,512.9 333.5,509.7 341.5,511.7 349.5,511.7 357.5,506.8 365.5,502.3 373.5,499.3 381.5,496.2 389.5,494.5 390.5,494.5 391.5,494 397.5,494 405.5,494 406.5,494 407.5,493.1 413.5,493.1 421.5,494.8 429.5,494.8 437.5,499.3 445.5,502.3 453.5,499.3 461.5,498.1 469.5,498.1 477.5,498.1 478.5,498.1 479.5,497.6 485.5,497.6 493.5,496 501.5,498.4 502.5,498.4 503.5,499 509.5,499 517.5,505.1 525.5,503.8 533.5,508.4 541.5,510.1 549.5,513.4 557.5,513.4 565.5,510.9 573.5,508.1 581.5,510.1 589.5,514.6 597.5,514.6 605.5,512.9 613.5,515.6 621.5,515.6 622.5,515.6 623.5,514.6 629.5,514.6 637.5,513.4 638.5,513.4 639.5,513 645.5,513 646.5,513 647.5,512 653.5,512 654.5,512 655.5,511 661.5,511 669.5,508 677.5,510 685.5,515 693.5,515 694.5,515 695.5,514 701.5,514 702.5,514 703.5,515 709.5,515 717.5,515 718.5,515 719.5,514 725.5,514 733.5,514 734.5,514 735.5,515 741.5,515 749.5,515 757.5,515 758.5,515 759.5,514 765.5,514 773.5,514 781.5,514 782.5,514 783.5,515 789.5,515 790.5,515 791.5,514 797.5,514 798.5,514 799.5,513 805.5,513 813.5,515 821.5,515 829.5,511.5 830.5,511.5 831.5,511 837.5,511 838.5,511 839.5,510 845.5,510 853.5,508.7 854.5,508.7 855.5,508 861.5,508 869.5,508 877.5,510 885.5,508 893.5,508 894.5,508 895.5,509 901.5,509 909.5,511 917.5,511 918,511" fill="none" stroke="#1e90ff" stroke-width="2" stroke-linejoin="round" shape-rendering="crispEdges"/>
<g clip-path="url(#cr)">
<text x="1171.00" y="444" font-size="10.17" fill="#000" textLength="38.92" lengthAdjust="spacingAndGlyphs" xml:space="preserve" stroke="#000" stroke-width="0.16">0.103934</text>
<text x="1171.07" y="478" font-size="10.17" fill="#000" textLength="18.24" lengthAdjust="spacingAndGlyphs" xml:space="preserve" stroke="#000" stroke-width="0.16">0.00</text>
<text x="1172.90" y="479" font-size="10.17" fill="#000" textLength="42.04" lengthAdjust="spacingAndGlyphs" xml:space="preserve" stroke="#000" stroke-width="0.16">-0.018294</text>
<text x="1170.51" y="495" font-size="10.17" fill="#000" textLength="15.62" lengthAdjust="spacingAndGlyphs" xml:space="preserve" stroke="#000" stroke-width="0.16">100</text>
<text x="1170.90" y="507" font-size="10.17" fill="#000" textLength="8.46" lengthAdjust="spacingAndGlyphs" xml:space="preserve" stroke="#000" stroke-width="0.16">70</text>
<text x="1170.72" y="530" font-size="10.17" fill="#000" textLength="8.84" lengthAdjust="spacingAndGlyphs" xml:space="preserve" stroke="#000" stroke-width="0.16">30</text>
<text x="1170.87" y="541" font-size="10.17" fill="#000" textLength="4.90" lengthAdjust="spacingAndGlyphs" xml:space="preserve" stroke="#000" stroke-width="0.16">0</text>
</g>
<g shape-rendering="crispEdges">
<rect x="5" y="545" width="1" height="3" fill="#000"/>
<rect x="69" y="545" width="1" height="3" fill="#000"/>
<rect x="133" y="545" width="1" height="3" fill="#000"/>
<rect x="197" y="545" width="1" height="3" fill="#000"/>
<rect x="261" y="545" width="1" height="3" fill="#000"/>
<rect x="325" y="545" width="1" height="3" fill="#000"/>
<rect x="389" y="545" width="1" height="3" fill="#000"/>
<rect x="453" y="545" width="1" height="3" fill="#000"/>
<rect x="517" y="545" width="1" height="3" fill="#000"/>
<rect x="581" y="545" width="1" height="3" fill="#000"/>
<rect x="645" y="545" width="1" height="3" fill="#000"/>
<rect x="709" y="545" width="1" height="3" fill="#000"/>
<rect x="773" y="545" width="1" height="3" fill="#000"/>
<rect x="837" y="545" width="1" height="3" fill="#000"/>
<rect x="901" y="545" width="1" height="3" fill="#000"/>
</g>
<text x="3.57" y="557.0" font-size="10.17" fill="#000" textLength="52.62" lengthAdjust="spacingAndGlyphs" xml:space="preserve" stroke="#000" stroke-width="0.16">16 Feb 2022</text>
<text x="68.08" y="557.0" font-size="10.17" fill="#000" textLength="52.35" lengthAdjust="spacingAndGlyphs" xml:space="preserve" stroke="#000" stroke-width="0.16">28 Feb 2022</text>
<text x="131.58" y="557.0" font-size="10.17" fill="#000" textLength="52.30" lengthAdjust="spacingAndGlyphs" xml:space="preserve" stroke="#000" stroke-width="0.16">10 Mar 2022</text>
<text x="195.97" y="557.0" font-size="10.17" fill="#000" textLength="52.41" lengthAdjust="spacingAndGlyphs" xml:space="preserve" stroke="#000" stroke-width="0.16">22 Mar 2022</text>
<text x="259.56" y="557.0" font-size="10.17" fill="#000" textLength="45.82" lengthAdjust="spacingAndGlyphs" xml:space="preserve" stroke="#000" stroke-width="0.16">1 Apr 2022</text>
<text x="323.57" y="557.0" font-size="10.17" fill="#000" textLength="51.64" lengthAdjust="spacingAndGlyphs" xml:space="preserve" stroke="#000" stroke-width="0.16">13 Apr 2022</text>
<text x="388.04" y="557.0" font-size="10.17" fill="#000" textLength="51.17" lengthAdjust="spacingAndGlyphs" xml:space="preserve" stroke="#000" stroke-width="0.16">25 Apr 2022</text>
<text x="451.87" y="557.0" font-size="10.17" fill="#000" textLength="49.45" lengthAdjust="spacingAndGlyphs" xml:space="preserve" stroke="#000" stroke-width="0.16">5 May 2022</text>
<text x="515.56" y="557.0" font-size="10.17" fill="#000" textLength="55.40" lengthAdjust="spacingAndGlyphs" xml:space="preserve" stroke="#000" stroke-width="0.16">17 May 2022</text>
<text x="580.04" y="557.0" font-size="10.17" fill="#000" textLength="54.67" lengthAdjust="spacingAndGlyphs" xml:space="preserve" stroke="#000" stroke-width="0.16">27 May 2022</text>
<text x="643.83" y="557.0" font-size="10.17" fill="#000" textLength="45.28" lengthAdjust="spacingAndGlyphs" xml:space="preserve" stroke="#000" stroke-width="0.16">8 Jun 2022</text>
<text x="707.89" y="557.0" font-size="10.17" fill="#000" textLength="50.41" lengthAdjust="spacingAndGlyphs" xml:space="preserve" stroke="#000" stroke-width="0.16">20 Jun 2022</text>
<text x="771.77" y="557.0" font-size="10.17" fill="#000" textLength="50.07" lengthAdjust="spacingAndGlyphs" xml:space="preserve" stroke="#000" stroke-width="0.16">30 Jun 2022</text>
<text x="835.60" y="557.0" font-size="10.17" fill="#000" textLength="47.10" lengthAdjust="spacingAndGlyphs" xml:space="preserve" stroke="#000" stroke-width="0.16">12 Jul 2022</text>
<text x="900.01" y="557.0" font-size="10.17" fill="#000" textLength="46.65" lengthAdjust="spacingAndGlyphs" xml:space="preserve" stroke="#000" stroke-width="0.16">22 Jul 2022</text>
<g id="tabs">
<rect x="0" y="566" width="1207" height="24" fill="#f0f0f0"/>
<rect x="0" y="564.8" width="1207" height="2.2" fill="#e6e6e6"/>
<rect x="0" y="587" width="1207" height="1.2" fill="#fdfdfd"/><rect x="0" y="588.2" width="1207" height="2" fill="#f5f5f5"/>
<rect x="0" y="567" width="1207" height="1" fill="#000"/>
<rect x="437.4" y="568" width="113.6" height="18.6" fill="#fff"/>
<rect x="439" y="567" width="110" height="18.5" fill="#fff"/>
<path d="M438.6,567 V585.5 H549.6 V567" fill="none" stroke="#000" stroke-width="1.15"/>
<rect x="0" y="568" width="1.75" height="18.5" fill="#a0a0a0"/>
<text x="17.44" y="581.7" font-size="12.4" fill="#6e6e6e" textLength="84.97" lengthAdjust="spacingAndGlyphs" xml:space="preserve">EURUSD-,Daily</text>
<text x="124.85" y="581.7" font-size="12.4" fill="#6e6e6e" textLength="86.39" lengthAdjust="spacingAndGlyphs" xml:space="preserve">AUDUSD-,Daily</text>
<text x="234.50" y="581.7" font-size="12.4" fill="#6e6e6e" textLength="84.04" lengthAdjust="spacingAndGlyphs" xml:space="preserve">USDCHF-,Daily</text>
<text x="341.37" y="581.7" font-size="12.4" fill="#6e6e6e" textLength="85.90" lengthAdjust="spacingAndGlyphs" xml:space="preserve">USDCAD-,Daily</text>
<text x="450.04" y="581.7" font-size="12.4" fill="#000" textLength="88.80" lengthAdjust="spacingAndGlyphs" xml:space="preserve">USDCNH-,Daily</text>
<text x="561.01" y="581.7" font-size="12.4" fill="#6e6e6e" textLength="86.58" lengthAdjust="spacingAndGlyphs" xml:space="preserve">XAUUSD-,Daily</text>
<text x="669.37" y="581.7" font-size="12.4" fill="#6e6e6e" textLength="68.77" lengthAdjust="spacingAndGlyphs" xml:space="preserve">UKOil-,Daily</text>
<text x="761.99" y="581.7" font-size="12.4" fill="#6e6e6e" textLength="56.73" lengthAdjust="spacingAndGlyphs" xml:space="preserve">USOil-,H4</text>
<text x="839.94" y="581.7" font-size="12.4" fill="#6e6e6e" textLength="54.52" lengthAdjust="spacingAndGlyphs" xml:space="preserve">HK50-,H1</text>
<text x="916.28" y="581.7" font-size="12.4" fill="#6e6e6e" textLength="71.02" lengthAdjust="spacingAndGlyphs" xml:space="preserve">EURCHF-,H1</text>
<text x="1009.99" y="581.7" font-size="12.4" fill="#6e6e6e" textLength="56.73" lengthAdjust="spacingAndGlyphs" xml:space="preserve">USOil-,H4</text>
<text x="1089.39" y="581.7" font-size="12.4" fill="#6e6e6e" textLength="57.37" lengthAdjust="spacingAndGlyphs" xml:space="preserve">UKOil-,H4</text>
<rect x="114.0" y="570" width="1" height="14" fill="#707070"/>
<rect x="221.8" y="570" width="1" height="14" fill="#707070"/>
<rect x="330.1" y="570" width="1" height="14" fill="#707070"/>
<rect x="658.2" y="570" width="1" height="14" fill="#707070"/>
<rect x="749.7" y="570" width="1" height="14" fill="#707070"/>
<rect x="829.7" y="570" width="1" height="14" fill="#707070"/>
<rect x="905.9" y="570" width="1" height="14" fill="#707070"/>
<rect x="998.2" y="570" width="1" height="14" fill="#707070"/>
<rect x="1078.1" y="570" width="1" height="14" fill="#707070"/>
<rect x="1158.3" y="570" width="1" height="14" fill="#707070"/>
<path d="M1186.2,573 L1182.8,576 L1186.2,579 Z" fill="#000"/><path d="M1202.2,573 L1205.3,576 L1202.2,579 Z" fill="#a6a6a6"/>
</g>
</svg></body></html>
